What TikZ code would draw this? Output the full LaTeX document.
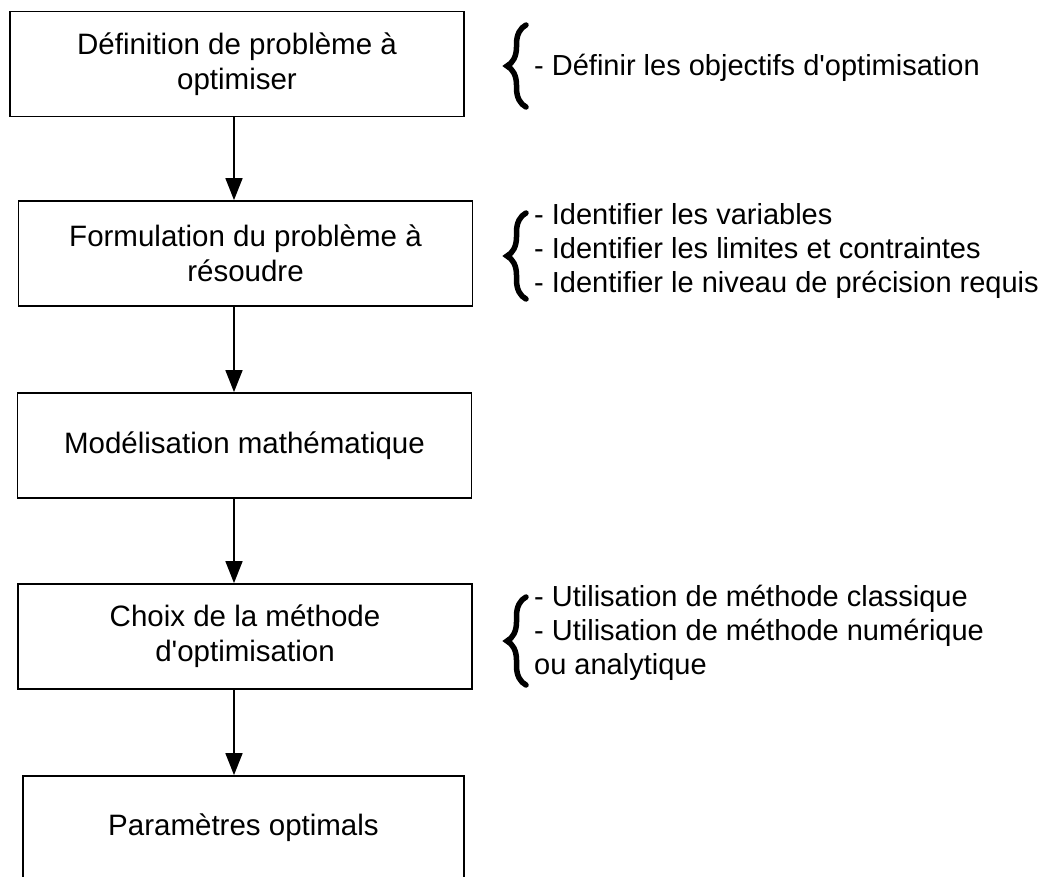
\documentclass[tikz,border=0pt]{standalone}
\usepackage{fontspec}
\setmainfont{Liberation Sans}[Ligatures=TeXOff]
\usetikzlibrary{arrows.meta,decorations.pathreplacing}
\begin{document}
\begin{tikzpicture}[x=1pt,y=-1pt,
  box/.style={draw, line width=1.8pt, minimum width=454pt, minimum height=105pt, align=center, inner sep=0pt, font=\fontsize{29.5}{35}\selectfont},
  note/.style={anchor=west, align=left, inner sep=0pt, font=\fontsize{29}{34}\selectfont},
  arr/.style={line width=1.6pt, -{Triangle[length=22pt,width=17pt]}},
  brc/.style={line width=5.5pt, line cap=round, decorate, decoration={brace, amplitude=19pt}}]
\useasboundingbox (0,0) rectangle (1047,876);
\clip (0,0) rectangle (1047,876);
\node[box] (b1) at (237,64) {Définition de problème à\\optimiser};
\node[box] (b2) at (245.5,253.5) {Formulation du problème à\\résoudre};
\node[box] (b3) at (244.5,445.5) {Modélisation mathématique};
\node[box] (b4) at (245,636.5) {Choix de la méthode\\d'optimisation};
\node[box, minimum width=441pt, minimum height=104pt] (b5) at (243.5,828) {Paramètres optimals};
\coordinate (ax) at (234,0);
\draw[arr] (b1.south -| ax) -- (b2.north -| ax);
\draw[arr] (b2.south -| ax) -- (b3.north -| ax);
\draw[arr] (b3.south -| ax) -- (b4.north -| ax);
\draw[arr] (b4.south -| ax) -- (b5.north -| ax);
\coordinate (k1a) at (526,107);
\coordinate (k1b) at (526,25);
\draw[brc] (k1a) -- (k1b);
\node[note] (n1) at (534,68) {- Définir les objectifs d'optimisation};
\coordinate (k2a) at (526,299);
\coordinate (k2b) at (526,213);
\draw[brc] (k2a) -- (k2b);
\node[note] (n2) at (534,251) {- Identifier les variables\\- Identifier les limites et contraintes\\- Identifier le niveau de précision requis};
\coordinate (k3a) at (526,685);
\coordinate (k3b) at (526,597);
\draw[brc] (k3a) -- (k3b);
\node[note] (n3) at (534,633) {- Utilisation de méthode classique\\- Utilisation de méthode numérique\\ou analytique};
\end{tikzpicture}
\end{document}
